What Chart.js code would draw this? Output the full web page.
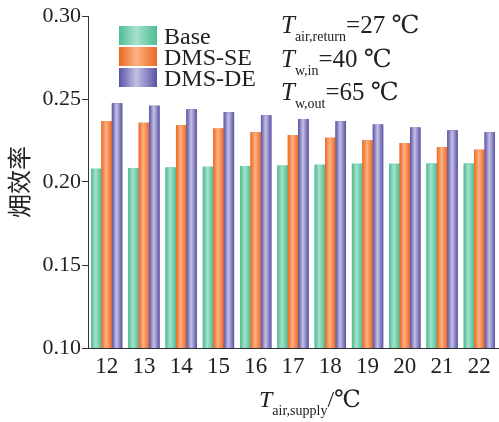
<!DOCTYPE html>
<html>
<head>
<meta charset="utf-8">
<script src="https://cdn.jsdelivr.net/npm/chart.js@4.4.0/dist/chart.umd.min.js"></script>
<style>
  body { margin: 0; background: #fff; }
  #wrap { width: 499px; height: 422px; }
</style>
</head>
<body>
<div id="wrap"><canvas id="myChart"></canvas></div>
<script>
// data
const categories = ['12', '13', '14', '15', '16', '17', '18', '19', '20', '21', '22'];
const seriesNames = ['Base', 'DMS-SE', 'DMS-DE'];
const baseValues = [0.2080, 0.2084, 0.2088, 0.2092, 0.2096, 0.2100, 0.2104, 0.2110, 0.2110, 0.2111, 0.2111];
const seValues = [0.2367, 0.2357, 0.2343, 0.2323, 0.2299, 0.2283, 0.2267, 0.2251, 0.2235, 0.2211, 0.2195];
const deValues = [0.2474, 0.2460, 0.2438, 0.2420, 0.2402, 0.2380, 0.2366, 0.2347, 0.2329, 0.2311, 0.2299];
const yTicks = [0.10, 0.15, 0.20, 0.25, 0.30];

const serif = "'Liberation Serif', 'DejaVu Serif', serif";
const cjk = "'Noto Sans CJK SC', sans-serif";

// edge colour, middle colour
const shades = [
  ['#4dbd93', '#a6e1cb'],
  ['#ee6722', '#fab386'],
  ['#5a53a5', '#c4c1e3']
];

function barGradient(ctx, x0, x1, pair) {
  const g = ctx.createLinearGradient(x0, 0, x1, 0);
  g.addColorStop(0, pair[0]);
  g.addColorStop(0.45, pair[1]);
  g.addColorStop(1, pair[0]);
  return g;
}

// paint each bar again with its own horizontal gradient
const gradientBars = {
  id: 'gradientBars',
  afterDatasetsDraw(chart) {
    const ctx = chart.ctx;
    const area = chart.chartArea;
    ctx.save();
    ctx.beginPath();
    ctx.rect(area.left, area.top, area.right - area.left, area.bottom - area.top);
    ctx.clip();
    chart.data.datasets.forEach(function (ds, i) {
      chart.getDatasetMeta(i).data.forEach(function (bar) {
        const p = bar.getProps(['x', 'y', 'base', 'width']);
        const half = p.width / 2;
        const top = Math.min(p.y, p.base);
        ctx.fillStyle = barGradient(ctx, p.x - half, p.x + half, shades[i]);
        ctx.fillRect(p.x - half, top, p.width, Math.abs(p.base - p.y));
      });
    });
    ctx.restore();
  }
};

// text with a subscript: italic T + sub + rest
function subText(ctx, x, y, sub, rest, big, small) {
  ctx.font = 'italic ' + big + 'px ' + serif;
  ctx.fillText('T', x, y);
  x += ctx.measureText('T').width;
  ctx.font = small + 'px ' + serif;
  ctx.fillText(sub, x, y + 8);
  x += ctx.measureText(sub).width;
  ctx.font = big + 'px ' + serif;
  ctx.fillText(rest, x, y);
  return x + ctx.measureText(rest).width;
}

const extras = {
  id: 'extras',
  afterDraw(chart) {
    const ctx = chart.ctx;
    const area = chart.chartArea;
    ctx.save();
    ctx.fillStyle = '#222';
    ctx.textBaseline = 'alphabetic';

    // legend in the top left of the plot
    const lx = area.left + 31, ly = 26;
    seriesNames.forEach(function (name, i) {
      const y = ly + i * 21;
      ctx.fillStyle = barGradient(ctx, lx, lx + 38, shades[i]);
      ctx.fillRect(lx, y, 38, 19);
      ctx.fillStyle = '#222';
      ctx.font = '24px ' + serif;
      ctx.fillText(name, lx + 45, y + 18);
    });

    // conditions
    const tx = 281;
    subText(ctx, tx, 33, 'air,return', '=27 \u2103', 25, 14);
    subText(ctx, tx, 67, 'w,in', '=40 \u2103', 25, 14);
    subText(ctx, tx, 100, 'w,out', '=65 \u2103', 25, 14);

    // x axis title
    subText(ctx, 259, 407, 'air,supply', '/\u2103', 24, 14);
    ctx.restore();
  }
};

const ctx = document.getElementById('myChart');
new Chart(ctx, {
  type: 'bar',
  data: {
    labels: categories,
    datasets: [
      { label: seriesNames[0], data: baseValues, backgroundColor: shades[0][0] },
      { label: seriesNames[1], data: seValues, backgroundColor: shades[1][0] },
      { label: seriesNames[2], data: deValues, backgroundColor: shades[2][0] }
    ]
  },
  options: {
    responsive: true,
    maintainAspectRatio: false,
    animation: false,
    categoryPercentage: 0.84,
    barPercentage: 1.0,
    layout: { padding: { top: 16, right: 1, left: 0, bottom: 0 } },
    plugins: {
      legend: { display: false },
      tooltip: { enabled: false }
    },
    scales: {
      x: {
        grid: { display: false },
        border: { display: true, color: '#333', width: 1, z: 1 },
        ticks: { color: '#222', font: { family: serif, size: 23 }, padding: -3, maxRotation: 0 },
        afterFit: function (scale) { scale.height = 74; }
      },
      y: {
        min: 0.10,
        max: 0.30,
        afterBuildTicks: function (scale) {
          scale.ticks = yTicks.map(function (v) { return { value: v }; });
        },
        grid: { drawOnChartArea: false, drawTicks: true, tickLength: 6, color: '#333' },
        border: { display: true, color: '#333', width: 1 },
        ticks: {
          color: '#222',
          font: { family: serif, size: 22 },
          padding: 1,
          callback: function (v) { return Number(v).toFixed(2); }
        },
        title: {
          display: true,
          text: '\u3DB2\u6548\u7387',
          color: '#222',
          font: { family: cjk, size: 24 },
          padding: { top: 4, bottom: 0 }
        },
        afterFit: function (scale) { scale.width = 88; }
      }
    }
  },
  plugins: [gradientBars, extras]
});
</script>
</body>
</html>
